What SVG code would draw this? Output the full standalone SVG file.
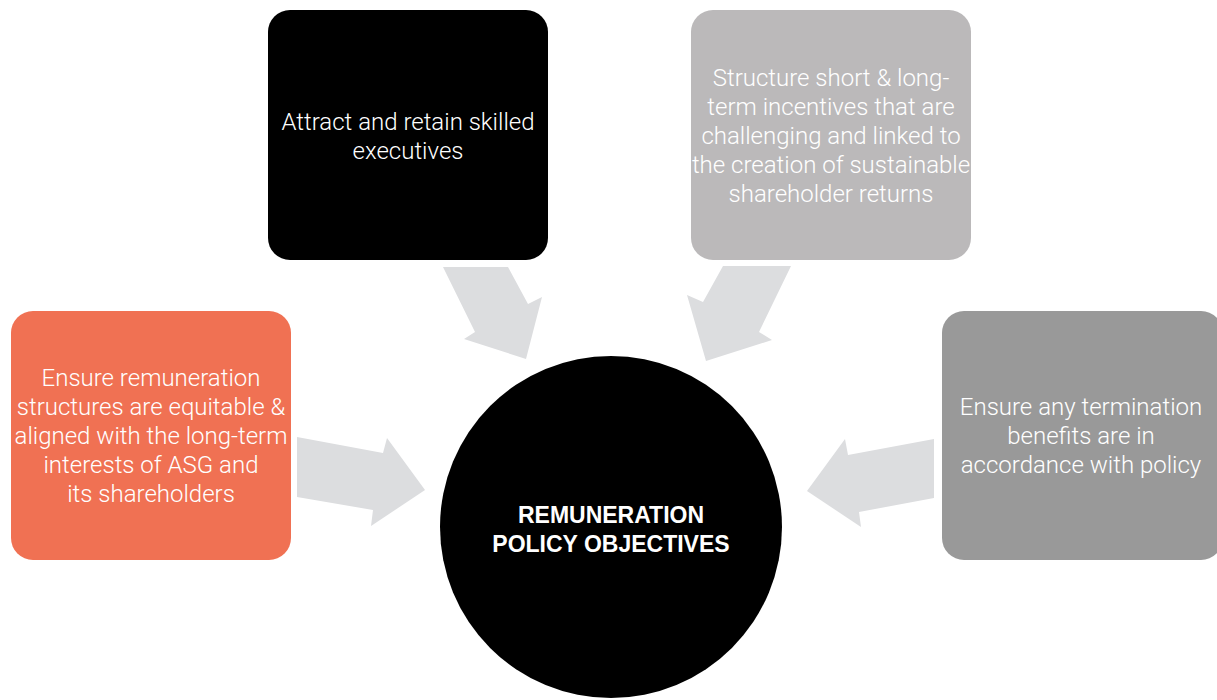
<svg xmlns="http://www.w3.org/2000/svg" width="1217" height="700" viewBox="0 0 1217 700">
<style>
.box text{font-family:Roboto,"Liberation Sans",sans-serif;font-weight:300;font-size:24px;fill:#ffffff;text-anchor:middle}
.arrow{fill:#dcdddf}
.center text{font-family:"Liberation Sans",Arial,sans-serif;font-weight:bold;font-size:23px;fill:#ffffff;text-anchor:middle}
</style>
<rect width="1217" height="700" fill="#ffffff"/>
<g id="connectors">
<polygon class="arrow" points="443,267 508,267 528,304 542,297 526,359 464,339 475,332"/>
<polygon class="arrow" points="723,266 791,266 759,332 772,340 706,361 687,295 703,302"/>
<polygon class="arrow" points="297,437 383,453 387,438 425,490 371,526 373,510 297,497"/>
<polygon class="arrow" points="934,439 848,455 845,439 807,491 861,527 859,512 934,498"/>
</g>
<g id="node-attract" class="box">
<rect x="268" y="10" width="280" height="250" rx="22" fill="#000000"/>
<text x="408" y="130">Attract and retain skilled</text>
<text x="408" y="159">executives</text>
</g>
<g id="node-structure" class="box">
<rect x="691" y="10" width="280" height="250" rx="22" fill="#bbb9ba"/>
<text x="831" y="86">Structure short &amp; long-</text>
<text x="831" y="115">term incentives that are</text>
<text x="831" y="144">challenging and linked to</text>
<text x="831" y="173">the creation of sustainable</text>
<text x="831" y="202">shareholder returns</text>
</g>
<g id="node-ensure-equitable" class="box">
<rect x="11" y="311" width="280" height="249" rx="22" fill="#f07153"/>
<text x="151" y="386">Ensure remuneration</text>
<text x="151" y="415">structures are equitable &amp;</text>
<text x="151" y="444">aligned with the long-term</text>
<text x="151" y="473">interests of ASG and</text>
<text x="151" y="502">its shareholders</text>
</g>
<g id="node-termination" class="box">
<rect x="942" y="311" width="281" height="249" rx="22" fill="#999999"/>
<text x="1081" y="415">Ensure any termination</text>
<text x="1081" y="444">benefits are in</text>
<text x="1081" y="473">accordance with policy</text>
</g>
<g id="node-center" class="center">
<circle cx="611" cy="527" r="171" fill="#000000"/>
<text x="611" y="523">REMUNERATION</text>
<text x="611" y="552">POLICY OBJECTIVES</text>
</g>
</svg>
